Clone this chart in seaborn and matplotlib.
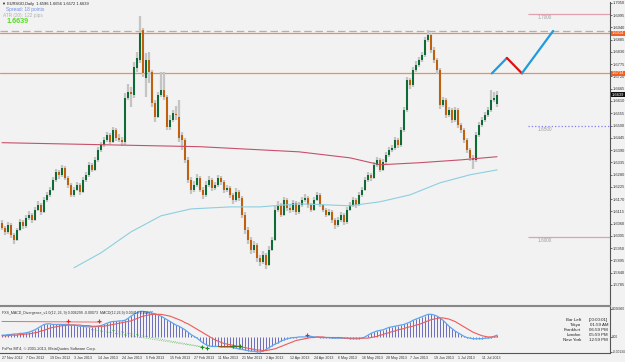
import numpy as np
import pandas as pd
import matplotlib
matplotlib.use("Agg")
import matplotlib.pyplot as plt
import seaborn as sns

sns.set_style("white")
plt.rcParams['font.family'] = ['Liberation Sans', 'DejaVu Sans']

# ---------------- data ----------------
# daily OHLC, bar 0 = 27 Nov 2012
opens = [1.6061,1.6041,1.6023,1.6055,1.6010,1.5988,1.6032,1.6068,1.6050,1.6086,
         1.6100,1.6077,1.6122,1.6144,1.6113,1.6167,1.6189,1.6212,1.6256,1.6292,
         1.6279,1.6310,1.6265,1.6234,1.6189,1.6212,1.6234,1.6203,1.6256,1.6279,
         1.6324,1.6301,1.6346,1.6391,1.6413,1.6436,1.6458,1.6427,1.6480,1.6445,
         1.6436,1.6427,1.6624,1.6651,1.6637,1.6758,1.6794,1.6928,1.6713,1.6794,
         1.6740,1.6601,1.6539,1.6637,1.6660,1.6628,1.6494,1.6525,1.6550,1.6539,
         1.6458,1.6436,1.6346,1.6256,1.6212,1.6234,1.6265,1.6212,1.6189,1.6234,
         1.6256,1.6220,1.6234,1.6265,1.6247,1.6212,1.6220,1.6189,1.6167,1.6203,
         1.6176,1.6100,1.6032,1.5988,1.5943,1.5965,1.5907,1.5889,1.5920,1.5876,
         1.5943,1.5988,1.6122,1.6144,1.6100,1.6167,1.6131,1.6122,1.6153,1.6113,
         1.6144,1.6167,1.6176,1.6144,1.6122,1.6167,1.6189,1.6144,1.6122,1.6100,
         1.6113,1.6077,1.6055,1.6077,1.6100,1.6068,1.6122,1.6144,1.6167,1.6144,
         1.6189,1.6212,1.6256,1.6279,1.6265,1.6324,1.6346,1.6301,1.6337,1.6368,
         1.6391,1.6400,1.6436,1.6413,1.6480,1.6570,1.6704,1.6682,1.6749,1.6772,
         1.6794,1.6816,1.6884,1.6906,1.6839,1.6794,1.6749,1.6592,1.6615,1.6548,
         1.6570,1.6525,1.6570,1.6503,1.6480,1.6436,1.6391,1.6355,1.6346,1.6458,
         1.6503,1.6525,1.6548,1.6570,1.6615,1.6596]
highs = [1.6075,1.6050,1.6068,1.6062,1.6020,1.6040,1.6080,1.6078,1.6098,1.6115,
         1.6108,1.6135,1.6160,1.6152,1.6178,1.6200,1.6225,1.6270,1.6305,1.6300,
         1.6322,1.6318,1.6275,1.6242,1.6225,1.6245,1.6240,1.6268,1.6290,1.6338,
         1.6332,1.6358,1.6402,1.6425,1.6448,1.6470,1.6465,1.6492,1.6488,1.6460,
         1.6448,1.6648,1.6686,1.6673,1.6785,1.6830,1.6991,1.6937,1.6825,1.6830,
         1.6749,1.6615,1.6651,1.6740,1.6740,1.6637,1.6548,1.6570,1.6588,1.6615,
         1.6472,1.6445,1.6360,1.6270,1.6252,1.6282,1.6275,1.6225,1.6250,1.6272,
         1.6265,1.6248,1.6280,1.6275,1.6256,1.6235,1.6228,1.6198,1.6218,1.6212,
         1.6185,1.6110,1.6045,1.6000,1.5982,1.5975,1.5920,1.5935,1.5930,1.5958,
         1.6002,1.6138,1.6160,1.6152,1.6180,1.6175,1.6145,1.6168,1.6162,1.6158,
         1.6180,1.6192,1.6185,1.6152,1.6178,1.6202,1.6196,1.6150,1.6132,1.6125,
         1.6120,1.6085,1.6090,1.6112,1.6108,1.6135,1.6158,1.6180,1.6175,1.6202,
         1.6225,1.6270,1.6292,1.6288,1.6338,1.6360,1.6355,1.6350,1.6380,1.6402,
         1.6412,1.6448,1.6445,1.6492,1.6585,1.6718,1.6712,1.6762,1.6788,1.6808,
         1.6830,1.6898,1.6930,1.6915,1.6850,1.6805,1.6758,1.6630,1.6625,1.6585,
         1.6580,1.6585,1.6578,1.6512,1.6490,1.6445,1.6400,1.6368,1.6472,1.6515,
         1.6538,1.6560,1.6582,1.6660,1.6650,1.6656]
lows = [1.6030,1.6010,1.6012,1.5995,1.5968,1.5980,1.6025,1.6038,1.6042,1.6075,
        1.6065,1.6070,1.6115,1.6100,1.6108,1.6158,1.6180,1.6205,1.6248,1.6262,
        1.6270,1.6255,1.6222,1.6178,1.6180,1.6205,1.6190,1.6198,1.6248,1.6270,
        1.6290,1.6295,1.6338,1.6380,1.6405,1.6428,1.6415,1.6420,1.6432,1.6425,
        1.6410,1.6413,1.6615,1.6583,1.6624,1.6740,1.6781,1.6718,1.6628,1.6691,
        1.6583,1.6516,1.6534,1.6628,1.6615,1.6480,1.6480,1.6516,1.6525,1.6427,
        1.6391,1.6330,1.6240,1.6195,1.6200,1.6225,1.6200,1.6172,1.6180,1.6225,
        1.6208,1.6210,1.6225,1.6235,1.6198,1.6200,1.6175,1.6150,1.6158,1.6162,
        1.6085,1.6015,1.5970,1.5925,1.5930,1.5890,1.5868,1.5878,1.5858,1.5868,
        1.5935,1.5980,1.6112,1.6088,1.6092,1.6118,1.6108,1.6112,1.6100,1.6105,
        1.6135,1.6158,1.6132,1.6110,1.6115,1.6160,1.6135,1.6110,1.6088,1.6092,
        1.6062,1.6035,1.6045,1.6068,1.6055,1.6060,1.6115,1.6135,1.6130,1.6138,
        1.6180,1.6205,1.6248,1.6250,1.6258,1.6315,1.6290,1.6295,1.6328,1.6360,
        1.6382,1.6392,1.6400,1.6405,1.6472,1.6562,1.6665,1.6675,1.6740,1.6762,
        1.6785,1.6808,1.6875,1.6825,1.6780,1.6732,1.6575,1.6582,1.6532,1.6538,
        1.6510,1.6515,1.6490,1.6465,1.6420,1.6375,1.6340,1.6305,1.6338,1.6450,
        1.6495,1.6515,1.6538,1.6560,1.6605,1.6585]
closes = [1.6041,1.6023,1.6055,1.6010,1.5988,1.6032,1.6068,1.6050,1.6086,1.6100,
          1.6077,1.6122,1.6144,1.6113,1.6167,1.6189,1.6212,1.6256,1.6292,1.6279,
          1.6310,1.6265,1.6234,1.6189,1.6212,1.6234,1.6203,1.6256,1.6279,1.6324,
          1.6301,1.6346,1.6391,1.6413,1.6436,1.6458,1.6427,1.6480,1.6445,1.6436,
          1.6427,1.6624,1.6651,1.6642,1.6763,1.6803,1.6915,1.6736,1.6794,1.6740,
          1.6601,1.6539,1.6637,1.6660,1.6628,1.6494,1.6525,1.6556,1.6546,1.6445,
          1.6436,1.6346,1.6256,1.6212,1.6234,1.6265,1.6212,1.6189,1.6234,1.6256,
          1.6220,1.6234,1.6265,1.6247,1.6212,1.6220,1.6189,1.6167,1.6203,1.6176,
          1.6100,1.6032,1.5988,1.5943,1.5965,1.5907,1.5889,1.5920,1.5876,1.5943,
          1.5988,1.6122,1.6144,1.6100,1.6167,1.6131,1.6122,1.6153,1.6113,1.6144,
          1.6167,1.6176,1.6144,1.6122,1.6167,1.6189,1.6144,1.6122,1.6100,1.6113,
          1.6077,1.6055,1.6077,1.6100,1.6068,1.6122,1.6144,1.6167,1.6144,1.6189,
          1.6212,1.6256,1.6279,1.6265,1.6324,1.6346,1.6301,1.6337,1.6368,1.6391,
          1.6400,1.6436,1.6413,1.6480,1.6570,1.6704,1.6682,1.6749,1.6772,1.6794,
          1.6816,1.6884,1.6906,1.6839,1.6794,1.6749,1.6592,1.6615,1.6548,1.6570,
          1.6525,1.6570,1.6503,1.6480,1.6436,1.6391,1.6355,1.6346,1.6458,1.6503,
          1.6525,1.6548,1.6570,1.6615,1.6624,1.6639]

ma_red_i = [0, 33, 66, 99, 116, 126, 139, 153, 165]
ma_red_p = [1.6423, 1.6414, 1.6405, 1.6382, 1.6355, 1.6324, 1.6333, 1.6346, 1.6360]
ma_cyan_i = [24, 33, 43, 53, 63, 76, 86, 99, 116, 126, 136, 146, 156, 165]
ma_cyan_p = [1.5862, 1.5929, 1.6023, 1.6095, 1.6126, 1.6135, 1.6135, 1.6149, 1.6140, 1.6158, 1.6189, 1.6243, 1.6279, 1.6301]

macd = [3,3,4,4,5,5,6,6,7,8, 10,12,15,18,21,22,22,21,21,21,
        21,21,21,20,20,19,18,18,17,17, 17,17,18,19,21,23,25,26,26,27,
        27,28,31,35,38,41,43,43,42,41, 40,39,37,35,32,29,26,23,20,18,
        15,12,8,4,1,-2,-6,-10,-13,-15, -16,-16,-16,-17,-17,-17,-17,-18,-19,-20,
        -21,-22,-23,-24,-24,-25,-25,-24,-21,-18, -15,-12,-10,-7,-5,-3,-2,-1,-1,0,
        0,0,1,1,0,0,-1,-1,-1,-1, -2,-2,-2,-2,-2,-2,-3,-3,-3,-3,
        -2,0,3,6,8,10,11,12,14,16, 17,18,19,20,21,23,25,28,30,32,
        34,36,38,38,37,35,32,28,23,18, 14,10,7,4,1,-1,-2,-3,-3,-3,
        -3,-2,-2,-1,1,3]
signal = [2,2,2,3,3,3,4,4,5,5, 6,7,8,10,11,13,15,16,17,18,
          19,19,20,20,20,20,20,19,19,19, 18,18,18,18,18,19,20,21,22,23,
          24,25,26,27,29,31,33,35,36,37, 38,38,38,38,37,36,35,33,31,29,
          27,24,22,19,16,13,10,7,4,1, -2,-5,-7,-9,-11,-12,-13,-14,-15,-16,
          -17,-18,-19,-20,-21,-22,-22,-23,-23,-22, -21,-20,-18,-16,-14,-12,-10,-8,-6,-5,
          -4,-3,-2,-1,-1,0,0,0,-1,-1, -1,-1,-1,-1,-2,-2,-2,-2,-2,-2,
          -2,-2,-2,-1,0,1,3,4,6,7, 9,10,12,13,14,16,17,18,20,21,
          23,25,27,29,30,31,32,32,31,30, 28,26,23,20,17,14,11,8,6,4,
          2,1,0,0,0,0]
macd = [v * 1e-4 for v in macd]
signal = [v * 1e-4 for v in signal]

date_labels = ["27 Nov 2012", "7 Dec 2012", "19 Dec 2012", "3 Jan 2013", "14 Jan 2013",
               "24 Jan 2013", "5 Feb 2013", "15 Feb 2013", "27 Feb 2013", "11 Mar 2013",
               "21 Mar 2013", "2 Apr 2013", "12 Apr 2013", "24 Apr 2013", "6 May 2013",
               "16 May 2013", "28 May 2013", "7 Jun 2013", "19 Jun 2013", "1 Jul 2013",
               "11 Jul 2013"]
date_idx = [0, 8, 16, 24, 32, 40, 48, 56, 64, 72, 80, 88, 96, 104, 112, 120, 128, 136, 144, 152, 160]

price_ticks = [1.7050 - 0.0055 * k for k in range(24)]
level_lines = [1.7000, 1.6500, 1.6000]
orange_levels = [1.6914, 1.6734]
gray_level = 1.6923
last_price = 1.6639
proj_i = [163.3, 168.3, 173.3, 183.7]
proj_p = [1.6734, 1.6803, 1.6734, 1.6924]

# ---------------- figure ----------------
BG = "#f2f2f2"
W, H = 625, 362
fig = plt.figure(figsize=(W / 100, H / 100), dpi=100, facecolor=BG)
ax = fig.add_axes([0, 1 - 305 / H, 610 / W, 303 / H], facecolor=BG)
axm = fig.add_axes([0, 1 - 353 / H, 610 / W, 47 / H], facecolor=BG, sharex=ax)

n = len(closes)
idx = np.arange(n)
df = pd.DataFrame({"i": idx, "open": opens, "close": closes, "high": highs, "low": lows})

# wicks
ax.vlines(df["i"], df["low"], df["high"], color="#c4c4c4", lw=1.6, zorder=2)
up = df["close"] >= df["open"]
body_h = (df["close"] - df["open"]).abs().clip(lower=0.0004)
body_b = df[["open", "close"]].min(axis=1)
ax.bar(df["i"][up], body_h[up], bottom=body_b[up], width=0.62, color="#0d6b35", zorder=3, linewidth=0)
ax.bar(df["i"][~up], body_h[~up], bottom=body_b[~up], width=0.62, color="#c0600c", zorder=3, linewidth=0)

# moving averages
sns.lineplot(x=ma_red_i, y=ma_red_p, ax=ax, color="#c8506a", lw=0.8, zorder=4)
sns.lineplot(x=ma_cyan_i, y=ma_cyan_p, ax=ax, color="#8ccfe0", lw=0.8, zorder=4)

# levels
ax.axhline(gray_level, color="#b0b0b0", lw=0.9, ls=(0, (6, 3)), zorder=1)
for lv in orange_levels:
    ax.axhline(lv, color="#e89060", lw=0.9, zorder=1)
for lv, col, ls in zip(level_lines, ["#e0a0b0", "#8080ee", "#e0a0b0"], ["-", ":", "-"]):
    ax.hlines(lv, 175.3, 202.7, color=col, lw=0.9, ls=ls, zorder=1)
    ax.text(178.5, lv - 0.0006, f"{lv:.4f}", fontsize=3.4, color="#a0a0a0", va="top")

# projection zigzag
sns.lineplot(x=proj_i[:2], y=proj_p[:2], ax=ax, color="#1f9be0", lw=1.6, zorder=5)
sns.lineplot(x=proj_i[1:3], y=proj_p[1:3], ax=ax, color="#e01010", lw=1.6, zorder=5)
sns.lineplot(x=proj_i[2:], y=proj_p[2:], ax=ax, color="#1f9be0", lw=1.6, zorder=5)

ax.set_xlim(-0.667, 202.667)
ax.set_ylim(1.5695, 1.7054)
ax.yaxis.tick_right()
ax.set_yticks(price_ticks)
ax.set_yticklabels([f"{t:.4f}" for t in price_ticks], fontsize=2.9, color="#333333")
ax.tick_params(axis="y", length=1.5, width=0.5, pad=0.8, colors="#333333")
ax.tick_params(axis="x", length=0, labelbottom=False)
for s in ["left", "top"]:
    ax.spines[s].set_visible(False)
ax.spines["right"].set_color("#555555")
ax.spines["right"].set_linewidth(0.8)
ax.spines["bottom"].set_color("#888888")
ax.spines["bottom"].set_linewidth(0.8)

# price tags
for lv, fc in [(1.6914, "#f06020"), (1.6734, "#f06020"), (last_price, "#111111")]:
    ax.annotate(f"{lv:.4f}", xy=(1.003, lv), xycoords=("axes fraction", "data"),
                fontsize=2.9, color="white", va="center", ha="left",
                bbox=dict(boxstyle="square,pad=0.12", fc=fc, ec="none"), annotation_clip=False)

# header texts
fig.text(0.003, 1 - 4 / H, "\u25bc EURSGD,Daily  1.6596 1.6656 1.6572 1.6639", fontsize=2.9, color="#222222", va="center")
fig.text(0.010, 1 - 9.5 / H, "Spread: 18 points", fontsize=3.4, color="#6a8ee8", va="center")
fig.text(0.005, 1 - 15 / H, "ATR (20): 122 pips", fontsize=3.4, color="#b0b0b0", va="center")
fig.text(0.010, 1 - 21.5 / H, "1.6639", fontsize=5.2, color="#55dd22", va="center", fontweight="bold")

# ---------------- MACD ----------------
axm.vlines(idx, 0, macd, color="#6c6cc0", lw=0.7, zorder=2)
sns.lineplot(x=idx, y=macd, ax=axm, color="#5ea4ee", lw=0.9, zorder=3)
sns.lineplot(x=idx, y=signal, ax=axm, color="#ee5a5a", lw=0.8, zorder=4)
# divergence lines
axm.plot([0, 33], [0.0026, 0.0025], color="#ee6a6a", lw=0.7, zorder=5)
axm.plot([29, 66.7], [0.0013, -0.0017], color="#5db85d", lw=0.6, ls=":", zorder=5)
axm.plot([36, 68.3], [0.0012, -0.0018], color="#5db85d", lw=0.6, ls=":", zorder=5)
axm.plot([72, 79.3], [-0.0015, -0.0015], color="#8a5a1a", lw=0.8, zorder=5)
axm.scatter([22, 32.3, 101.7], [0.0027, 0.0026, 0.0003], marker="+", color="#ee2020", s=8, lw=0.8, zorder=6)
axm.scatter([66.7, 68.3, 77, 79.3], [-0.0017, -0.0018, -0.0015, -0.0015], marker="+", color="#1a8a1a", s=8, lw=0.8, zorder=6)

axm.set_ylim(-0.0027, 0.0052)
axm.yaxis.tick_right()
axm.set_yticks([0.0047, 0.0, -0.0025])
axm.set_yticklabels(["0.006060", "0.00", "-0.00134"], fontsize=2.3, color="#333333")
axm.tick_params(axis="y", length=1.2, width=0.5, pad=0.5, colors="#333333")
axm.set_xticks(date_idx)
axm.set_xticklabels(date_labels, fontsize=2.6, color="#333333", ha="left")
axm.tick_params(axis="x", length=1.5, width=0.5, pad=1, colors="#333333")
for s in ["left"]:
    axm.spines[s].set_visible(False)
axm.spines["top"].set_color("#888888")
axm.spines["top"].set_linewidth(0.8)
axm.spines["right"].set_color("#555555")
axm.spines["right"].set_linewidth(0.8)
axm.spines["bottom"].set_color("#555555")
axm.spines["bottom"].set_linewidth(0.8)

axm.text(0.004, 0.86, "FXS_MACD_Divergence_v1.0(12, 26, 9) 0.006299 -0.00073  MACD(12,26,9) 0.00418 0.00677",
         transform=axm.transAxes, fontsize=2.6, color="#333333", va="center")
axm.text(0.004, 0.09, "FxPro MT4, \u00a9 2001-2013, MetaQuotes Software Corp.",
         transform=axm.transAxes, fontsize=2.8, color="#333333", va="center")
clock_l = ["Bar Left", "Tokyo", "Frankfurt", "London", "New York"]
clock_r = ["[00:00:01]", "01:59 AM", "06:59 PM", "05:59 PM", "12:59 PM"]
for k, (a, b) in enumerate(zip(clock_l, clock_r)):
    yy = 1 - (320 + 5 * k) / H
    fig.text(581 / W, yy, a, fontsize=3.2, color="#222222", ha="right", va="center")
    fig.text(608 / W, yy, b, fontsize=3.2, color="#222222", ha="right", va="center")

for a in (ax, axm):
    a.set_xlabel("")
    a.set_ylabel("")
    if a.get_legend():
        a.get_legend().remove()

fig.savefig("out.png", dpi=100, facecolor=BG)
